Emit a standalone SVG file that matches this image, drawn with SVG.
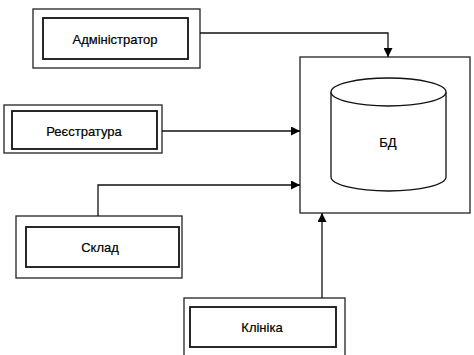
<svg xmlns="http://www.w3.org/2000/svg" width="474" height="355" viewBox="0 0 474 355">
<defs>
<marker id="ah" viewBox="0 0 10 10" refX="10" refY="5" markerWidth="9" markerHeight="9" markerUnits="userSpaceOnUse" orient="auto">
<path d="M0,0 L10,5 L0,10 z" fill="#000"/>
</marker>
</defs>
<style>
.outer{fill:#fff;stroke:#222;stroke-width:1.3}
.inner{fill:#fff;stroke:#111;stroke-width:1.8}
.lbl{font-family:"Liberation Sans",Arial,sans-serif;font-size:13px;fill:#000;stroke:#000;stroke-width:0.2;text-anchor:middle;dominant-baseline:central}
.con{fill:none;stroke:#111;stroke-width:1.3}
</style>
<rect width="474" height="355" fill="#fff"/>
<g id="db">
<rect class="outer" x="300" y="57" width="170" height="156"/>
<path d="M331,92 L331,177 A57.5,14 0 0 0 446,177 L446,92" fill="#fff" stroke="#111" stroke-width="1.3"/>
<ellipse cx="388.5" cy="92" rx="57.5" ry="14" fill="#fff" stroke="#111" stroke-width="1.3"/>
<text class="lbl" x="388" y="142">БД</text>
</g>
<g id="admin">
<rect class="outer" x="33" y="9" width="167" height="59"/>
<rect class="inner" x="43" y="18" width="145" height="41"/>
<text class="lbl" x="115" y="39">Адміністратор</text>
</g>
<g id="registry">
<rect class="outer" x="4" y="105" width="158" height="48"/>
<rect class="inner" x="12" y="111" width="145" height="38"/>
<text class="lbl" x="84" y="131">Реєстратура</text>
</g>
<g id="sklad">
<rect class="outer" x="16" y="216" width="166" height="62"/>
<rect class="inner" x="26" y="227" width="153" height="40"/>
<text class="lbl" x="100" y="247">Склад</text>
</g>
<g id="clinic">
<rect class="outer" x="184" y="298" width="161" height="60"/>
<rect class="inner" x="190" y="307" width="146" height="40"/>
<text class="lbl" x="262" y="327">Клініка</text>
</g>
<g id="connectors">
<path class="con" d="M200,33 L388,33 L388,57" marker-end="url(#ah)"/>
<path class="con" d="M162,131 L300,131" marker-end="url(#ah)"/>
<path class="con" d="M98,216 L98,185 L300,185" marker-end="url(#ah)"/>
<path class="con" d="M322,298 L322,213" marker-end="url(#ah)"/>
</g>
</svg>
